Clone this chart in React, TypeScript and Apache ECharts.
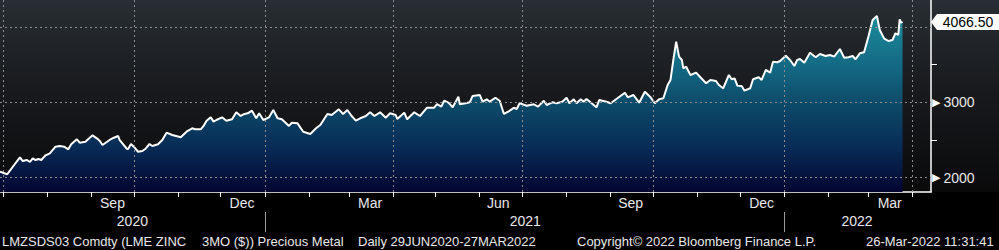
import React, { useEffect, useRef } from "react";
import * as echarts from "echarts";

// ---- data ----
const dates = [
  "2020-06-29","2020-07-04","2020-07-08","2020-07-13","2020-07-15","2020-07-18","2020-07-20","2020-07-22","2020-07-24","2020-07-26",
  "2020-07-28","2020-07-31","2020-08-03","2020-08-07","2020-08-10","2020-08-13","2020-08-16","2020-08-18","2020-08-22","2020-08-24",
  "2020-08-28","2020-09-02","2020-09-05","2020-09-07","2020-09-09","2020-09-12","2020-09-14","2020-09-17","2020-09-20","2020-09-21",
  "2020-09-23","2020-09-26","2020-09-27","2020-09-29","2020-10-01","2020-10-04","2020-10-07","2020-10-09","2020-10-12","2020-10-14",
  "2020-10-18","2020-10-21","2020-10-24","2020-10-28","2020-11-03","2020-11-07","2020-11-11","2020-11-13","2020-11-17","2020-11-19",
  "2020-11-21","2020-11-24","2020-11-26","2020-11-28","2020-12-02","2020-12-05","2020-12-09","2020-12-12","2020-12-15","2020-12-17",
  "2020-12-20","2020-12-23","2020-12-26","2020-12-28","2020-12-31","2021-01-04","2021-01-07","2021-01-10","2021-01-13","2021-01-18",
  "2021-01-20","2021-01-24","2021-01-28","2021-02-02","2021-02-06","2021-02-09","2021-02-14","2021-02-17","2021-02-22","2021-02-25",
  "2021-02-28","2021-03-03","2021-03-06","2021-03-09","2021-03-13","2021-03-16","2021-03-19","2021-03-23","2021-03-27","2021-03-30",
  "2021-04-03","2021-04-04","2021-04-09","2021-04-11","2021-04-16","2021-04-20","2021-04-25","2021-04-30","2021-05-02","2021-05-05",
  "2021-05-07","2021-05-10","2021-05-13","2021-05-17","2021-05-18","2021-05-22","2021-05-25","2021-05-27","2021-06-01","2021-06-03",
  "2021-06-06","2021-06-08","2021-06-12","2021-06-15","2021-06-18","2021-06-21","2021-06-25","2021-06-27","2021-06-29","2021-07-04",
  "2021-07-09","2021-07-12","2021-07-16","2021-07-18","2021-07-22","2021-07-25","2021-07-29","2021-08-01","2021-08-03","2021-08-06",
  "2021-08-08","2021-08-11","2021-08-13","2021-08-15","2021-08-22","2021-08-24","2021-08-29","2021-09-01","2021-09-05","2021-09-11",
  "2021-09-13","2021-09-17","2021-09-21","2021-09-25","2021-09-29","2021-10-02","2021-10-05","2021-10-08","2021-10-11","2021-10-13",
  "2021-10-15","2021-10-17","2021-10-19","2021-10-21","2021-10-22","2021-10-24","2021-10-27","2021-10-31","2021-11-03","2021-11-07",
  "2021-11-10","2021-11-14","2021-11-16","2021-11-19","2021-11-23","2021-11-25","2021-11-27","2021-11-29","2021-12-02","2021-12-04",
  "2021-12-08","2021-12-10","2021-12-14","2021-12-16","2021-12-19","2021-12-22","2021-12-24","2021-12-27","2021-12-29","2022-01-02",
  "2022-01-05","2022-01-08","2022-01-10","2022-01-12","2022-01-15","2022-01-19","2022-01-23","2022-01-26","2022-01-30","2022-02-02",
  "2022-02-05","2022-02-09","2022-02-12","2022-02-15","2022-02-18","2022-02-20","2022-02-23","2022-02-26","2022-03-01","2022-03-04",
  "2022-03-07","2022-03-09","2022-03-12","2022-03-15","2022-03-18","2022-03-20","2022-03-22","2022-03-23","2022-03-24","2022-03-25"
];

const prices = [
  2079,2045,2145,2270,2221,2234,2208,2257,2234,2247,
  2234,2297,2323,2411,2420,2411,2376,2443,2509,2464,
  2477,2562,2522,2490,2433,2473,2500,2530,2553,2500,
  2456,2384,2380,2447,2411,2344,2354,2380,2447,2420,
  2443,2500,2597,2566,2536,2610,2655,2642,2642,2686,
  2752,2801,2743,2765,2801,2756,2774,2867,2818,2841,
  2854,2889,2788,2854,2765,2801,2898,2788,2774,2686,
  2729,2721,2610,2579,2655,2699,2845,2831,2907,2845,
  2898,2818,2756,2788,2818,2867,2818,2867,2795,2854,
  2831,2778,2862,2774,2867,2818,2928,2928,2977,2942,
  3021,2995,2934,3074,2973,2987,3000,3084,3097,3008,
  3040,3008,3061,3021,2845,2875,2928,2911,2987,2955,
  2973,2942,3021,2964,3000,2987,3008,3061,2987,3040,
  2987,3040,3008,3044,2934,3031,3008,2987,3044,3127,
  3066,3097,2995,3141,3066,2987,3040,3053,3230,3296,
  3561,3804,3605,3561,3451,3472,3362,3393,3332,3252,
  3296,3283,3230,3186,3362,3305,3318,3220,3216,3154,
  3186,3305,3332,3296,3429,3393,3539,3531,3548,3618,
  3561,3482,3561,3575,3525,3658,3597,3641,3614,3628,
  3605,3707,3592,3597,3614,3571,3650,3663,3870,4092,
  4145,3959,3849,3813,3827,3916,3893,4101,4056,4066.5
];

const lastPrice = 4066.5;
const axisStart = "2020-06-29";
const axisEnd = "2022-04-14";
const yMin = 1810;
const yMax = 4357;

const monthTickDates = [
  "2020-07-01","2020-08-01","2020-09-01","2020-10-01","2020-11-01","2020-12-01",
  "2021-01-01","2021-02-01","2021-03-01","2021-04-01","2021-05-01","2021-06-01",
  "2021-07-01","2021-08-01","2021-09-01","2021-10-01","2021-11-01","2021-12-01",
  "2022-01-01","2022-02-01","2022-03-01","2022-04-01"
];
const monthLabelDates = ["2020-09-16","2020-12-16","2021-03-16","2021-06-14","2021-09-15","2021-12-16","2022-03-16"];
const monthNames = ["Jan","Feb","Mar","Apr","May","Jun","Jul","Aug","Sep","Oct","Nov","Dec"];
const quarterGridDates = ["2020-07-01","2020-10-01","2021-01-01","2021-04-01","2021-07-01","2021-10-01","2022-01-01","2022-04-01"];
const yearSeparatorDates = ["2021-01-01","2022-01-01"];
const yearLabelDates = ["2020-09-30","2021-07-03","2022-02-21"];
const yGridValues = [2000, 3000, 4000];
const yMinorTicks = [2500, 3500];
const yLabelValues = [2000, 3000];

const footerTexts = [
  "LMZSDS03 Comdty (LME ZINC",
  "3MO ($)) Precious Metal",
  "Daily 29JUN2020-27MAR2022",
  "Copyright\u00A9 2022 Bloomberg Finance L.P.",
  "26-Mar-2022 11:31:41"
];

function ts(s: string): number {
  const [y, m, d] = s.split("-").map(Number);
  return new Date(y, m - 1, d).getTime();
}

const FONT = "'Liberation Sans', Arial, sans-serif";

export default function App() {
  const ref = useRef<HTMLDivElement>(null);

  useEffect(() => {
    if (!ref.current) return;
    const chart = echarts.init(ref.current, null, { renderer: "svg" });
    const seriesData = dates.map((d, i) => [ts(d), prices[i]]);
    const xMin = ts(axisStart);
    const xMax = ts(axisEnd);
    const footerX = [2, 202, 358, 577, 866];

    chart.setOption({
      animation: false,
      backgroundColor: "#000",
      textStyle: { fontFamily: FONT },
      grid: {
        left: 0,
        right: 68,
        top: 0,
        bottom: 58,
        containLabel: false,
        outerBoundsMode: "none",
      },
      graphic: [
        {
          type: "rect",
          z: -10,
          silent: true,
          shape: { x: 0, y: 0, width: 999, height: 192 },
          style: {
            fill: new echarts.graphic.LinearGradient(0, 0, 0, 1, [
              { offset: 0, color: "#282e33" },
              { offset: 0.5, color: "#17191c" },
              { offset: 1, color: "#0a0a0b" },
            ]),
          },
        },
        ...footerTexts.map((t, i) => ({
          type: "text",
          x: footerX[i],
          y: 241,
          silent: true,
          style: {
            text: t,
            fill: "#e8e8e8",
            font: `13px ${FONT}`,
            textVerticalAlign: "middle",
          },
        })),
      ],
      xAxis: [
        {
          type: "value",
          min: xMin,
          max: xMax,
          position: "bottom",
          splitLine: { show: false },
          axisLine: { show: true, lineStyle: { color: "#ffffff", width: 1.5 } },
          axisTick: {
            show: true,
            customValues: monthTickDates.map(ts),
            length: 5,
            lineStyle: { color: "#ffffff", width: 1 },
          },
          axisLabel: {
            show: true,
            customValues: monthLabelDates.map(ts),
            formatter: (v: number) => monthNames[new Date(v).getMonth()],
            color: "#e8e8e8",
            fontSize: 14,
            fontFamily: FONT,
            margin: 4,
            hideOverlap: false,
          },
        },
        {
          type: "value",
          min: xMin,
          max: xMax,
          position: "bottom",
          offset: 20,
          splitLine: { show: false },
          axisLine: { show: false },
          axisTick: {
            show: true,
            customValues: yearSeparatorDates.map(ts),
            length: 20,
            lineStyle: { color: "#9a9a9a", width: 1 },
          },
          axisLabel: {
            show: true,
            customValues: yearLabelDates.map(ts),
            formatter: (v: number) => String(new Date(v).getFullYear()),
            color: "#e8e8e8",
            fontSize: 14,
            fontFamily: FONT,
            margin: 2,
            hideOverlap: false,
          },
        },
      ],
      yAxis: {
        type: "value",
        position: "right",
        min: yMin,
        max: yMax,
        splitLine: { show: false },
        axisLine: { show: true, lineStyle: { color: "#ffffff", width: 1.5 } },
        axisTick: {
          show: true,
          customValues: yMinorTicks,
          length: 6,
          lineStyle: { color: "#ffffff", width: 1 },
        },
        axisLabel: {
          show: true,
          customValues: yLabelValues,
          margin: 1,
          formatter: (v: number) => `{tri|\u25B6}{val|${v}}`,
          rich: {
            tri: { color: "#ffffff", fontSize: 11, fontFamily: "'DejaVu Sans'", padding: [0, 3, 0, 0] },
            val: { color: "#e8e8e8", fontSize: 14, fontFamily: FONT },
          },
        },
      },
      series: [
        {
          type: "line",
          data: seriesData,
          xAxisIndex: 0,
          symbol: "none",
          showSymbol: false,
          lineStyle: { color: "#ffffff", width: 2 },
          areaStyle: {
            origin: "start",
            opacity: 1,
            color: new echarts.graphic.LinearGradient(0, 0, 0, 1, [
              { offset: 0, color: "#1c8b9b" },
              { offset: 0.3, color: "#136782" },
              { offset: 0.5, color: "#0d4a69" },
              { offset: 0.75, color: "#082b56" },
              { offset: 1, color: "#020530" },
            ]),
          },
          markLine: {
            silent: true,
            symbol: "none",
            label: { show: false },
            lineStyle: { color: "#8c8c8c", type: [2, 3], width: 1 },
            data: [
              ...quarterGridDates.map((d) => ({ xAxis: ts(d) })),
              ...yGridValues.map((v) => ({ yAxis: v })),
            ],
          },
          markPoint: {
            silent: true,
            symbol: "path://M0,8 L6,0 L70,0 L70,16 L6,16 Z",
            symbolSize: [70, 16],
            symbolKeepAspect: false,
            symbolOffset: [35, 0],
            itemStyle: { color: "#ffffff" },
            label: {
              show: true,
              position: "inside",
              offset: [2, 0],
              color: "#000000",
              fontSize: 14,
              fontFamily: FONT,
              formatter: () => lastPrice.toFixed(2),
            },
            data: [{ coord: [xMax, lastPrice] }],
          },
        },
      ],
    });

    return () => chart.dispose();
  }, []);

  return (
    <div
      ref={ref}
      style={{ position: "fixed", left: 0, top: 0, width: 999, height: 250 }}
    />
  );
}
